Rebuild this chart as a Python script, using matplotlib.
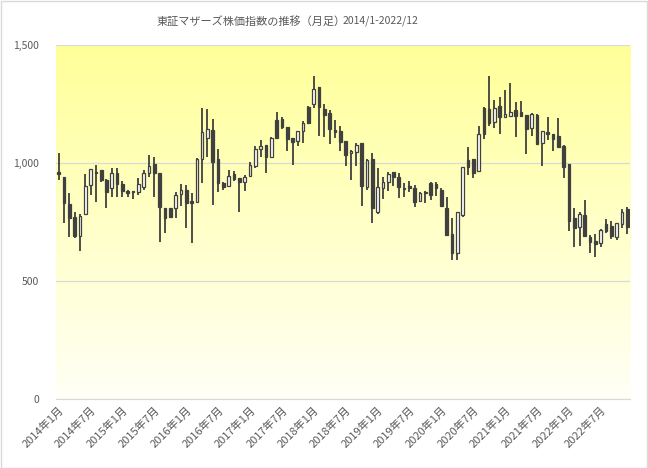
import numpy as np
import matplotlib
matplotlib.use("Agg")
import matplotlib.pyplot as plt
from matplotlib.colors import LinearSegmentedColormap
from matplotlib.patches import Rectangle

plt.rcParams['font.family'] = ['Noto Sans CJK JP', 'DejaVu Sans']

# Monthly OHLC, 2014/1 - 2022/12
opens = [960, 939, 825, 771, 692, 785, 905, 963, 970, 930, 895, 956,
         911, 880, 877, 878, 899, 956, 995, 956, 808, 808, 808, 867,
         885, 839, 836, 1019, 1107, 1138, 1015, 914, 904, 953, 935, 921,
         946, 987, 1058, 1075, 1027, 1182, 1185, 1151, 1104, 1094, 1137, 1238,
         1248, 1320, 1227, 1210, 1140, 1135, 1093, 1041, 1048, 1083, 899, 1019,
         793, 895, 918, 960, 942, 889, 902, 895, 840, 878, 916, 913,
         885, 808, 699, 617, 780, 1012, 1017, 964, 1231, 1227, 1172, 1241,
         1196, 1200, 1224, 1216, 1203, 1149, 1203, 1086, 1131, 1123, 1114, 1074,
         995, 768, 730, 779, 688, 669, 659, 741, 733, 688, 740, 803]
highs = [1041, 942, 871, 794, 784, 952, 973, 990, 972, 932, 977, 977,
         925, 885, 883, 935, 970, 1034, 1026, 958, 810, 810, 878, 909,
         906, 875, 1022, 1231, 1227, 1185, 1058, 921, 970, 966, 937, 949,
         1005, 1072, 1097, 1077, 1111, 1217, 1196, 1153, 1106, 1137, 1178, 1241,
         1368, 1323, 1250, 1224, 1182, 1156, 1095, 1053, 1083, 1085, 1017, 1041,
         977, 942, 963, 962, 956, 916, 925, 906, 878, 881, 918, 918,
         892, 857, 765, 793, 983, 1066, 1019, 1156, 1238, 1368, 1267, 1278,
         1309, 1341, 1257, 1261, 1205, 1213, 1207, 1137, 1193, 1125, 1189, 1076,
         997, 808, 793, 843, 695, 699, 719, 761, 755, 747, 805, 815]
lows = [930, 747, 685, 683, 628, 780, 866, 833, 920, 810, 857, 857,
        857, 857, 846, 866, 885, 942, 857, 666, 705, 765, 768, 819,
        723, 662, 836, 916, 1027, 822, 878, 885, 899, 925, 793, 882,
        944, 980, 1027, 959, 1025, 1101, 1142, 1052, 991, 1072, 1083, 1166,
        1231, 1114, 1111, 1079, 1107, 1052, 987, 930, 987, 819, 885, 747,
        786, 846, 882, 902, 850, 854, 878, 815, 836, 832, 843, 861,
        815, 690, 589, 589, 772, 949, 938, 962, 1100, 1156, 1147, 1125,
        1194, 1193, 1111, 1196, 1038, 1114, 1076, 987, 1097, 1052, 1066, 938,
        713, 645, 650, 688, 617, 603, 642, 705, 678, 673, 723, 698]
closes = [955, 832, 765, 690, 777, 901, 973, 958, 928, 878, 956, 909,
          882, 875, 881, 909, 956, 987, 956, 815, 765, 770, 864, 885,
          829, 832, 1019, 1130, 1142, 1005, 916, 900, 947, 932, 921, 939,
          991, 1058, 1072, 1027, 1104, 1104, 1154, 1100, 1090, 1135, 1168, 1168,
          1312, 1238, 1203, 1142, 1132, 1087, 1036, 1051, 1076, 902, 1012, 808,
          897, 918, 952, 942, 899, 895, 895, 836, 875, 871, 864, 895,
          819, 695, 617, 791, 981, 981, 956, 1123, 1125, 1168, 1231, 1193,
          1206, 1217, 1200, 1200, 1144, 1207, 1079, 1135, 1124, 1101, 1069, 984,
          755, 723, 786, 692, 666, 658, 716, 712, 692, 744, 792, 727]

tick_labels = ['2014年1月', '2014年7月', '2015年1月', '2015年7月', '2016年1月',
               '2016年7月', '2017年1月', '2017年7月', '2018年1月', '2018年7月',
               '2019年1月', '2019年7月', '2020年1月', '2020年7月', '2021年1月',
               '2021年7月', '2022年1月', '2022年7月']

o = np.array(opens)
h = np.array(highs)
l = np.array(lows)
c = np.array(closes)
x = np.arange(len(o))

fig = plt.figure(figsize=(6.48, 4.68), dpi=100)
ax = fig.add_axes([56 / 648, 69 / 468, 574 / 648, 354 / 468])

# yellow gradient background
cmap = LinearSegmentedColormap.from_list('bg', ['#FFFFF6', '#FFFF99'])
grad = np.linspace(0, 1, 256).reshape(-1, 1)
ax.imshow(grad, cmap=cmap, origin='lower', aspect='auto',
          extent=[-0.5, len(x) - 0.5, 0, 1500], zorder=0)

ax.set_xlim(-0.5, len(x) - 0.5)
ax.set_ylim(0, 1500)
ax.set_yticks([0, 500, 1000, 1500])
ax.set_yticklabels(['0', '500', '1,000', '1,500'])
ax.grid(axis='y', color='#D9D9D9', lw=0.9, zorder=1)
for s in ['top', 'right', 'left']:
    ax.spines[s].set_visible(False)
ax.spines['bottom'].set_color('#D9D9D9')
ax.set_axisbelow(True)

# wicks then bodies
dark = '#404040'
ax.vlines(x, l, h, color=dark, lw=1.3, zorder=2)
up = c >= o
bottom = np.minimum(o, c)
height = np.maximum(np.abs(c - o), 4)
ax.bar(x[up], height[up], bottom=bottom[up], width=0.5,
       color='white', edgecolor=dark, lw=0.9, zorder=3)
ax.bar(x[~up], height[~up], bottom=bottom[~up], width=0.5,
       color=dark, edgecolor=dark, lw=0.9, zorder=3)

ax.set_xticks(x[::6])
ax.set_xticklabels(tick_labels, rotation=45, ha='right', rotation_mode='anchor')
ax.tick_params(axis='both', length=0, colors='#595959')
ax.tick_params(axis='y', pad=12, labelsize=7.5)
ax.tick_params(axis='x', pad=4, labelsize=8)

# title
t1 = fig.text(157 / 648, 1 - 21 / 468, '東証マザーズ株価指数の推移（月足）',
              fontsize=8, color='#595959', ha='left', va='center')
fig.canvas.draw()
bb = t1.get_window_extent(fig.canvas.get_renderer())
fig.text((bb.x1 - 4) / 648, 1 - 21 / 468, '2014/1-2022/12',
         fontsize=7.5, color='#595959', ha='left', va='center')

# chart border
fig.patches.append(Rectangle((0.001, 0.001), 0.997, 0.997, transform=fig.transFigure,
                             fill=False, edgecolor='#D9D9D9', lw=1))

fig.savefig('out.png', dpi=100)
